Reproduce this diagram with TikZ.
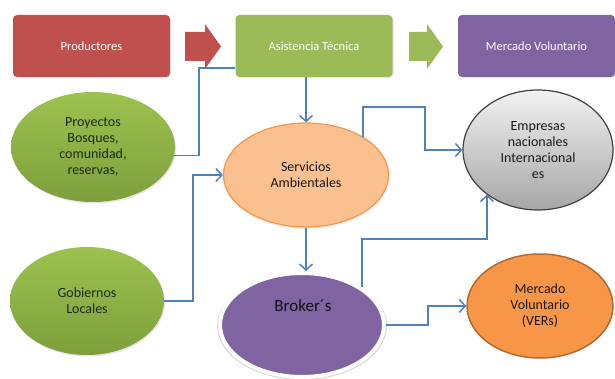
\documentclass[tikz,border=0pt]{standalone}
\usepackage{fontspec}
\setmainfont{Carlito}
\usetikzlibrary{shapes.geometric,arrows.meta,shadows}
\definecolor{cred}{HTML}{C0504D}
\definecolor{cgreen}{HTML}{9BBB59}
\definecolor{cpurple}{HTML}{8064A2}
\definecolor{cblue}{HTML}{4F81BD}
\definecolor{corange}{HTML}{F79646}
\definecolor{corangedark}{HTML}{B5682E}
\definecolor{cpeach}{HTML}{FBC08F}
\definecolor{gtop}{HTML}{9CC24F}
\definecolor{gbot}{HTML}{7E9F3C}
\definecolor{gtext}{HTML}{1F2812}
\tikzset{
  topbox/.style={rectangle, rounded corners=4pt, minimum width=157pt, minimum height=62pt,
    inner sep=0pt, text=white!95!pink, font=\fontsize{12.5}{15}\selectfont,
    drop shadow={opacity=0.18, shadow xshift=1pt, shadow yshift=-1pt}},
  oval/.style={ellipse, inner sep=0pt, align=center, font=\fontsize{14}{16}\selectfont, text=black!90},
  greenoval/.style={oval, top color=gtop, bottom color=gbot, text=gtext,
    drop shadow={opacity=0.2, shadow xshift=1pt, shadow yshift=-1.5pt}},
  conn/.style={draw=cblue, line width=1.5pt},
  arr/.style={conn, -{Straight Barb[length=6pt, width=13pt, line width=1.5pt]}}
}
\begin{document}
\begin{tikzpicture}[x=1pt, y=-1pt]
\useasboundingbox (0,0) rectangle (615,379);

% top boxes
\node[topbox, fill=cred] (pd) at (91.5,46) {Productores};
\node[topbox, fill=cgreen] (at) at (314,46) {Asistencia Técnica};
\node[topbox, fill=cpurple] (mv) at (536.5,46) {Mercado Voluntario};

% block arrows
\fill[cred] (185,32) -- (205,32) -- (205,24) -- (221,46.5) -- (205,69) -- (205,61) -- (185,61) -- cycle;
\fill[cgreen] (409,32) -- (427,32) -- (427,24) -- (443,46.5) -- (427,69) -- (427,61) -- (409,61) -- cycle;

% ellipses
\node[greenoval, minimum width=164pt, minimum height=110pt] (pr) at (93,147)
  {Proyectos\\Bosques,\\comunidad,\\reservas,};
\node[greenoval, minimum width=154pt, minimum height=108pt] (go) at (87,301)
  {Gobiernos\\Locales};
\node[oval, fill=cpeach, draw=corange, line width=1.2pt, minimum width=165pt, minimum height=104pt,
  drop shadow={opacity=0.12, shadow xshift=0pt, shadow yshift=-1pt, shadow scale=1.02}] (sa) at (306,175)
  {Servicios\\Ambientales};
\node[ellipse, inner sep=0pt, fill=cpurple, draw=white, line width=4pt, minimum width=164pt, minimum height=104pt,
  drop shadow={opacity=0.35, shadow xshift=0pt, shadow yshift=-1pt, shadow scale=1.035}] (br) at (302,325) {};
\node[font=\fontsize{17}{20}\selectfont, text=black!85!cpurple] (brt) at (303,306) {Broker´s};
\node[oval, top color=white!95!black, bottom color=black!35, draw=black!75, line width=1.2pt,
  minimum width=150pt, minimum height=120pt] (em) at (538,150)
  {Empresas\\nacionales\\Internacional\\es};
\node[oval, fill=corange, draw=corangedark, line width=1.5pt, minimum width=146pt, minimum height=104pt] (ve) at (540,306)
  {Mercado\\Voluntario\\(VERs)};

% bend coordinates
\coordinate (b1) at (199,68);
\coordinate (b2) at (193,300);
\coordinate (b5) at (425,107);
\coordinate (b6) at (487,239);
\coordinate (b7) at (428,326);

% connectors
\draw[conn] (pr.-6) -| (b1) -- (b1 -| at.west);
\draw[arr] (at.south -| sa.north) -- (sa.north);
\draw[arr] (go.east) -| (b2) |- (sa.west);
\draw[arr] (sa.south) -- (sa.south |- br.north);
\draw[arr] (sa.34) |- (b5) |- (em.west);
\draw[arr] (br.32) |- (b6) -- (b6 |- em.221);
\draw[arr] (br.east) -| (b7) |- (ve.west);
\end{tikzpicture}
\end{document}
